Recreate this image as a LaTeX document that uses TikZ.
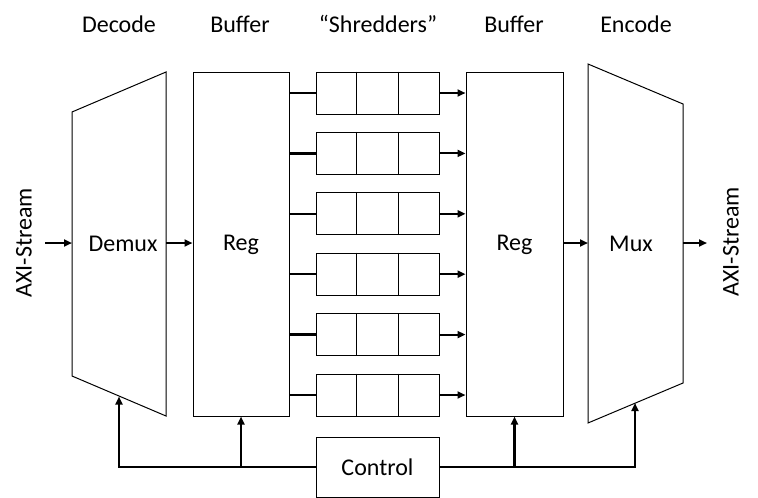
\documentclass[tikz,border=0pt]{standalone}
\usepackage{fontspec}
\setmainfont{Carlito}
\usetikzlibrary{arrows.meta,calc}
\tikzset{
  box/.style={draw,line width=1pt,rectangle,inner sep=0pt},
  lbl/.style={inner sep=0pt,font=\fontsize{24}{28}\selectfont},
  arr/.style={line width=2pt,-{Triangle[length=8pt,width=7pt]}},
  wire/.style={line width=2.4pt},
  ctl/.style={line width=2.4pt,-{Triangle[length=8pt,width=7pt]}},
  thin/.style={line width=1pt,line join=miter},
}
\begin{document}
\begin{tikzpicture}[x=1pt,y=-1pt]
\useasboundingbox (0,0) rectangle (758,498);
% headers
\node[lbl] (hdec) at (119,24) {Decode};
\node[lbl] (hbuf1) at (240,24) {Buffer};
\node[lbl] (hshr) at (378,24) {“Shredders”};
\node[lbl] (hbuf2) at (514,24) {Buffer};
\node[lbl] (henc) at (636,24) {Encode};
% demux trapezoid
\coordinate (dtl) at (72,112);
\coordinate (dtr) at (166,72);
\coordinate (dbr) at (166,416);
\coordinate (dbl) at (72,376);
\draw[thin] (dtl) -- (dtr) -- (dbr) -- (dbl) -- cycle;
\node[lbl] (demux) at (123,244) {Demux};
% mux trapezoid
\coordinate (mtl) at (588,64);
\coordinate (mtr) at (683,104);
\coordinate (mbr) at (683,383);
\coordinate (mbl) at (588,423);
\draw[thin] (mtl) -- (mtr) -- (mbr) -- (mbl) -- cycle;
\node[lbl] (mux) at (631,244) {Mux};
% registers
\node[box,minimum width=96pt,minimum height=344pt] (reg1) at (241,244) {};
\node[lbl] at ($(reg1.center)+(0,1)$) {Reg};
\node[box,minimum width=97pt,minimum height=344pt] (reg2) at (514.5,244) {};
\node[lbl] at ($(reg2.center)+(0,1)$) {Reg};
% shredders
\foreach \i/\yy in {1/93,2/153.4,3/213.8,4/274.2,5/334.6,6/395}{
  \node[box,minimum width=123pt,minimum height=42pt] (s\i) at (377.5,\yy) {};
  \draw[thin] ($(s\i.north west)!1/3!(s\i.north east)$) -- ($(s\i.south west)!1/3!(s\i.south east)$);
  \draw[thin] ($(s\i.north west)!2/3!(s\i.north east)$) -- ($(s\i.south west)!2/3!(s\i.south east)$);
  \draw[wire] (reg1.east |- s\i.west) -- (s\i.west);
  \draw[arr] (s\i.east) -- (reg2.west |- s\i.east);
}
% AXI stream labels
\node[lbl,rotate=90] (axin) at (24,243) {AXI-Stream};
\node[lbl,rotate=90] (axout) at (731,242) {AXI-Stream};
\coordinate (inL) at (45,243);
\coordinate (outR) at (707,243);
\draw[arr] (inL) -- (72,243);
\draw[arr] (166,243) -- (reg1.west |- 0,243);
\draw[arr] (reg2.east |- 0,243) -- (588,243);
\draw[arr] (683,243) -- (outR);
% control
\node[box,minimum width=123pt,minimum height=60pt] (ctrl) at (377.5,467) {};
\node[lbl] at (ctrl.center) {Control};
\coordinate (dmc) at (119,396.5);
\coordinate (mxc) at (635,403);
\draw[ctl] (ctrl.west) -| (dmc);
\draw[ctl] (reg1.south |- ctrl.west) -- (reg1.south);
\draw[ctl] (ctrl.east) -| (mxc);
\draw[ctl] (reg2.south |- ctrl.east) -- (reg2.south);
\end{tikzpicture}
\end{document}
